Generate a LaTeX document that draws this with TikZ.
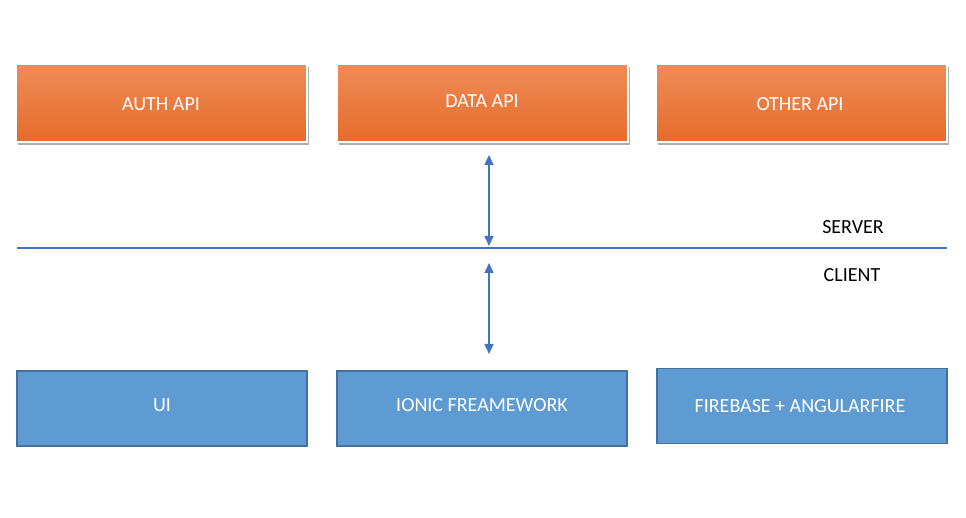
\documentclass[tikz,border=0pt]{standalone}
\usepackage{fontspec}
\setmainfont{Carlito}
\usetikzlibrary{shadows,arrows.meta}
\definecolor{orTop}{HTML}{F08B58}
\definecolor{orBot}{HTML}{E46C2A}
\definecolor{blFill}{HTML}{5F9BD3}
\definecolor{blLine}{HTML}{41719C}
\definecolor{arBlue}{HTML}{4472C4}
\begin{document}
\begin{tikzpicture}[x=1pt,y=-1pt,
  apibox/.style={rectangle, minimum width=291pt, minimum height=78pt, inner sep=0pt,
    draw=white, line width=2pt, top color=orTop, bottom color=orBot,
    drop shadow={shadow xshift=2pt, shadow yshift=-3pt, opacity=0.45, fill=black!70}},
  clibox/.style={rectangle, minimum width=290pt, minimum height=75pt, inner sep=0pt,
    draw=blLine, line width=1.6pt, fill=blFill},
  boxtext/.style={text=white, font=\fontsize{20}{22}\selectfont, inner sep=0pt},
  sidetext/.style={text=black, font=\fontsize{20}{22}\selectfont, inner sep=0pt},
  conn/.style={draw=arBlue, line width=1.5pt, {Triangle[width=9pt,length=10pt]}-{Triangle[width=9pt,length=10pt]}}
]
\useasboundingbox (0,0) rectangle (966,518);
% API boxes
\node[apibox] (auth) at (161.5,103) {};
\node[apibox] (data) at (482,103) {};
\node[apibox] (other) at (801.5,103) {};
\node[boxtext] (authT) at (161,104) {AUTH API};
\node[boxtext] (dataT) at (482,101) {DATA API};
\node[boxtext] (otherT) at (800,104) {OTHER API};
% client boxes
\node[clibox] (ui) at (162,408.5) {};
\node[clibox] (ionic) at (482,408.5) {};
\node[clibox] (fire) at (802,406) {};
\node[boxtext] (uiT) at (162,405) {UI};
\node[boxtext] (ionicT) at (482,405) {IONIC FREAMEWORK};
\node[boxtext] (fireT) at (800,406) {FIREBASE + ANGULARFIRE};
% divider
\coordinate (lineL) at (17,248);
\coordinate (lineR) at (947,248);
\draw[draw=arBlue, line width=1.5pt] (lineL) -- (lineR);
\node[sidetext] (server) at (853,227) {SERVER};
\node[sidetext] (client) at (852,275) {CLIENT};
% arrows
\coordinate (a1) at (489,155);
\coordinate (a2) at (489,246);
\coordinate (b1) at (489,263);
\coordinate (b2) at (489,354);
\draw[conn] (a1) -- (a2);
\draw[conn] (b1) -- (b2);
\end{tikzpicture}
\end{document}
